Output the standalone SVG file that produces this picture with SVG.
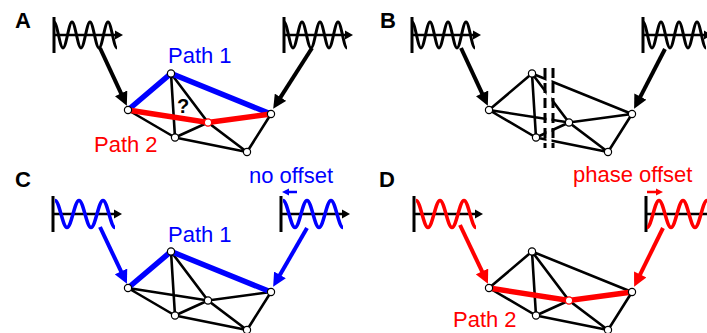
<svg xmlns="http://www.w3.org/2000/svg" xmlns:xlink="http://www.w3.org/1999/xlink" width="707" height="333" viewBox="0 0 707 333">
<style>
  text { font-family: "Liberation Sans", Arial, sans-serif; }
  .panel { font-size: 22px; font-weight: bold; fill: #000; }
  .lab { font-size: 22px; }
  .blue { fill: #0000ff; }
  .red { fill: #ff0000; }
  .edge { stroke: #000; stroke-width: 2.6; fill: none; stroke-linecap: round; }
  .pb { stroke: #0000ff; stroke-width: 5.5; fill: none; stroke-linecap: round; }
  .pr { stroke: #ff0000; stroke-width: 5.5; fill: none; stroke-linecap: round; }
  .node circle { fill: #fff; stroke: #000; stroke-width: 1.2; }
  .node.rn circle { stroke: #ff0000; }
  .arr { stroke-width: 4; fill: none; }
  .wk { stroke: #000; stroke-width: 3; fill: none; }
  .wb { stroke: #0000ff; stroke-width: 3.5; fill: none; }
  .wr { stroke: #ff0000; stroke-width: 3.5; fill: none; }
  .cut { stroke: #000; stroke-width: 3; stroke-dasharray: 10 5; fill: none; }
</style>
<defs>
  <marker id="ahK" viewBox="0 0 10 10" refX="1.4" refY="5" markerWidth="3.5" markerHeight="3.4" orient="auto" markerUnits="strokeWidth"><path d="M0,0 L10,5 L0,10 z" fill="#000"/></marker>
  <marker id="ahB" viewBox="0 0 10 10" refX="1.4" refY="5" markerWidth="3.5" markerHeight="3.4" orient="auto" markerUnits="strokeWidth"><path d="M0,0 L10,5 L0,10 z" fill="#0000ff"/></marker>
  <marker id="ahR" viewBox="0 0 10 10" refX="1.4" refY="5" markerWidth="3.5" markerHeight="3.4" orient="auto" markerUnits="strokeWidth"><path d="M0,0 L10,5 L0,10 z" fill="#ff0000"/></marker>
  <g id="axis">
    <line x1="0" y1="-18" x2="0" y2="18" stroke="#000" stroke-width="3"/>
    <line x1="0" y1="0" x2="62" y2="0" stroke="#000" stroke-width="2.6"/>
    <path d="M61,-4.5 L69,0 L61,4.5 z" fill="#000"/>
  </g>
  <path id="waveK" d="M0,-13 c3.28,0 5.72,26 9,26 s5.72,-26 9,-26 s5.72,26 9,26 s5.72,-26 9,-26 s5.72,26 9,26 s5.72,-26 9,-26 s5.72,26 9,26"/>
  <path id="waveP" d="M0,-13.5 c4.37,0 7.63,27 12,27 s7.63,-27 12,-27 s7.63,27 12,27 s7.63,-27 12,-27 s7.63,27 12,27"/>
  <path id="waveQ" d="M0,13.5 c4.37,0 7.63,-27 12,-27 s7.63,27 12,27 s7.63,-27 12,-27 s7.63,27 12,27 s7.63,-27 12,-27"/>
</defs>

<!-- panel labels -->
<text class="panel" x="15" y="28">A</text>
<text class="panel" x="380" y="28">B</text>
<text class="panel" x="15" y="187">C</text>
<text class="panel" x="379" y="187">D</text>

<!-- wave sources -->
<g id="A-srcL"><use xlink:href="#axis" x="54" y="35"/><use xlink:href="#waveK" x="54" y="35" class="wk"/></g>
<g id="A-srcR"><use xlink:href="#axis" x="284" y="35"/><use xlink:href="#waveK" x="284" y="35" class="wk"/></g>
<g id="B-srcL"><use xlink:href="#axis" x="412" y="35"/><use xlink:href="#waveK" x="412" y="35" class="wk"/></g>
<g id="B-srcR"><use xlink:href="#axis" x="643" y="35"/><use xlink:href="#waveK" x="643" y="35" class="wk"/></g>
<g id="C-srcL"><use xlink:href="#axis" x="53" y="214"/><use xlink:href="#waveP" x="55" y="214" class="wb"/></g>
<g id="C-srcR"><use xlink:href="#axis" x="281" y="214"/><use xlink:href="#waveP" x="283" y="214" class="wb"/></g>
<g id="D-srcL"><use xlink:href="#axis" x="414" y="214"/><use xlink:href="#waveP" x="416" y="214" class="wr"/></g>
<g id="D-srcR"><use xlink:href="#axis" x="646" y="214"/><use xlink:href="#waveQ" x="647" y="214" class="wr"/></g>

<!-- connectors -->
<g id="connectors">
  <!-- Panel A -->
  <g transform="translate(0,0)">
    <path class="edge" d="M128,110 L175,137.5 M171,73.5 L175,137.5 M171,73.5 L208,122.5 L247,152 M175,137.5 L208,122.5 M175,137.5 L247,152 M271,114 L247,152"/>
    <path class="pb" d="M128,110 L171,73.5 L271,114"/>
    <path class="pr" d="M128,110 L208,122.5 L271,114"/>
  </g>
  <!-- Panel B -->
  <g transform="translate(361,0)">
    <path class="edge" d="M128,110 L175,137.5 M171,73.5 L175,137.5 M171,73.5 L208,122.5 L247,152 M175,137.5 L208,122.5 M175,137.5 L247,152 M271,114 L247,152 M128,110 L171,73.5 L271,114 M128,110 L208,122.5 L271,114"/>
  </g>
  <rect x="546.5" y="64" width="5" height="86" fill="#fff"/>
  <line class="cut" x1="545" y1="68" x2="545" y2="148"/>
  <line class="cut" x1="553" y1="68" x2="553" y2="148"/>
  <!-- Panel C -->
  <g transform="translate(0,178)">
    <path class="edge" d="M128,110 L175,137.5 M171,73.5 L175,137.5 M171,73.5 L208,122.5 L247,152 M175,137.5 L208,122.5 M175,137.5 L247,152 M271,114 L247,152 M128,110 L208,122.5 L271,114"/>
    <path class="pb" d="M128,110 L171,73.5 L271,114"/>
  </g>
  <!-- Panel D -->
  <g transform="translate(361,178)">
    <path class="edge" d="M128,110 L175,137.5 M171,73.5 L175,137.5 M171,73.5 L208,122.5 L247,152 M175,137.5 L208,122.5 M175,137.5 L247,152 M271,114 L247,152 M128,110 L171,73.5 L271,114"/>
    <path class="pr" d="M128,110 L208,122.5 L271,114"/>
  </g>
  <!-- input arrows -->
  <line class="arr" stroke="#000" x1="100" y1="48" x2="121.9" y2="95.1" marker-end="url(#ahK)"/>
  <line class="arr" stroke="#000" x1="312" y1="48" x2="279.5" y2="98.9" marker-end="url(#ahK)"/>
  <line class="arr" stroke="#000" x1="461" y1="48" x2="482.9" y2="95.1" marker-end="url(#ahK)"/>
  <line class="arr" stroke="#000" x1="665" y1="49" x2="639.5" y2="98.3" marker-end="url(#ahK)"/>
  <line class="arr" stroke="#0000ff" x1="100" y1="227" x2="121.9" y2="273.2" marker-end="url(#ahB)"/>
  <line class="arr" stroke="#0000ff" x1="307" y1="228" x2="279" y2="276.6" marker-end="url(#ahB)"/>
  <line class="arr" stroke="#ff0000" x1="460" y1="225" x2="482.9" y2="273.2" marker-end="url(#ahR)"/>
  <line class="arr" stroke="#ff0000" x1="663" y1="228" x2="639.3" y2="276.2" marker-end="url(#ahR)"/>
  <!-- offset arrows -->
  <line stroke="#0000ff" stroke-width="2.5" x1="297" y1="192" x2="289" y2="192"/>
  <path d="M289,188.5 L282,192 L289,195.5 z" fill="#0000ff"/>
  <line stroke="#ff0000" stroke-width="2.5" x1="647" y1="192" x2="656" y2="192"/>
  <path d="M656,188.5 L663,192 L656,195.5 z" fill="#ff0000"/>
</g>

<!-- nodes -->
<g id="A-n1" class="node"><circle cx="128" cy="110" r="3.6"/></g>
<g id="A-n2" class="node"><circle cx="171" cy="73.5" r="3.6"/></g>
<g id="A-n3" class="node"><circle cx="175" cy="137.5" r="3.6"/></g>
<g id="A-n4" class="node rn"><circle cx="208" cy="122.5" r="3.6"/></g>
<g id="A-n5" class="node"><circle cx="271" cy="114" r="3.6"/></g>
<g id="A-n6" class="node"><circle cx="247" cy="152" r="3.6"/></g>

<g id="B-n1" class="node"><circle cx="489" cy="110" r="3.6"/></g>
<g id="B-n2" class="node"><circle cx="532" cy="73.5" r="3.6"/></g>
<g id="B-n3" class="node"><circle cx="536" cy="137.5" r="3.6"/></g>
<g id="B-n4" class="node"><circle cx="569" cy="122.5" r="3.6"/></g>
<g id="B-n5" class="node"><circle cx="632" cy="114" r="3.6"/></g>
<g id="B-n6" class="node"><circle cx="608" cy="152" r="3.6"/></g>

<g id="C-n1" class="node"><circle cx="128" cy="288" r="3.6"/></g>
<g id="C-n2" class="node"><circle cx="171" cy="251.5" r="3.6"/></g>
<g id="C-n3" class="node"><circle cx="175" cy="315.5" r="3.6"/></g>
<g id="C-n4" class="node"><circle cx="208" cy="300.5" r="3.6"/></g>
<g id="C-n5" class="node"><circle cx="271" cy="292" r="3.6"/></g>
<g id="C-n6" class="node"><circle cx="247" cy="330" r="3.6"/></g>

<g id="D-n1" class="node"><circle cx="489" cy="288" r="3.6"/></g>
<g id="D-n2" class="node"><circle cx="532" cy="251.5" r="3.6"/></g>
<g id="D-n3" class="node"><circle cx="536" cy="315.5" r="3.6"/></g>
<g id="D-n4" class="node rn"><circle cx="569" cy="300.5" r="3.6"/></g>
<g id="D-n5" class="node"><circle cx="632" cy="292" r="3.6"/></g>
<g id="D-n6" class="node"><circle cx="608" cy="330" r="3.6"/></g>

<!-- labels -->
<text class="lab blue" x="168" y="63">Path 1</text>
<text class="lab red" x="94" y="152">Path 2</text>
<text x="177" y="113" font-size="20" font-weight="bold">?</text>
<text class="lab blue" x="168" y="242">Path 1</text>
<text class="lab red" x="453" y="327">Path 2</text>
<text class="lab blue" x="249" y="183">no offset</text>
<text class="lab red" x="573" y="182">phase offset</text>
</svg>
